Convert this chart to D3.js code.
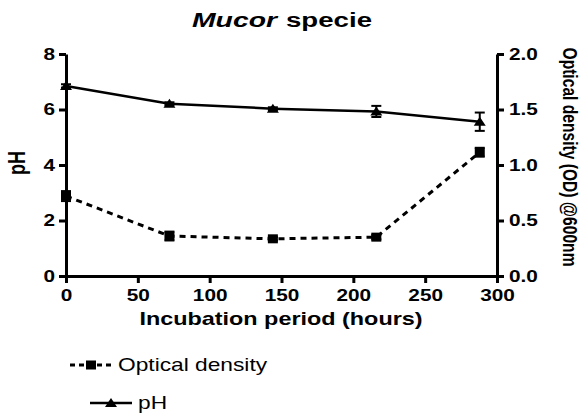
<!DOCTYPE html>
<html><head><meta charset="utf-8">
<script src="https://cdn.jsdelivr.net/npm/d3@7"></script>
<style>
html,body{margin:0;padding:0;background:#fff;}
svg{display:block;font-family:"Liberation Sans",Arial,sans-serif;}
</style></head>
<body>
<svg id="chart" width="581" height="414"></svg>
<script>
const hours = [0, 72, 144, 216, 288];
const pHValues = [6.85, 6.21, 6.03, 5.93, 5.56];
const pHErrors = [0.06, 0.05, 0.05, 0.2, 0.33];
const odValues = [0.72, 0.36, 0.335, 0.35, 1.115];
const odErrors = [0.045, 0.04, 0.015, 0.02, 0.04];
const xTicks = [0, 50, 100, 150, 200, 250, 300];
const pHTicks = [0, 2, 4, 6, 8];
const odTicks = [0.0, 0.5, 1.0, 1.5, 2.0];

const SX = 1.3; // horizontal text stretch seen in the reference
const svg = d3.select("#chart");
const x = d3.scaleLinear().domain([0, 300]).range([66, 497]);
const yL = d3.scaleLinear().domain([0, 8]).range([276, 54]);
const yR = d3.scaleLinear().domain([0, 2]).range([276, 54]);

function styleAxis(g){
  g.selectAll("path.domain").attr("stroke","#000").attr("stroke-width",3);
  g.selectAll(".tick line").attr("stroke","#000").attr("stroke-width",3);
  g.selectAll(".tick text").attr("fill","#000").attr("font-size",16).attr("font-weight","bold")
    .attr("font-family","'Liberation Sans',Arial,sans-serif");
}
// X axis
const gx = svg.append("g").attr("transform","translate(0,276)")
  .call(d3.axisBottom(x).tickValues(xTicks).tickSize(7).tickSizeOuter(0).tickPadding(3));
styleAxis(gx);
gx.selectAll(".tick text").attr("transform",`scale(${SX},1)`).attr("x",0).attr("dy","0.95em");
// Left axis
const gl = svg.append("g").attr("transform","translate(66,0)")
  .call(d3.axisLeft(yL).tickValues(pHTicks).tickSize(7).tickSizeOuter(0).tickPadding(3));
styleAxis(gl);
gl.selectAll(".tick text").attr("x",-11/SX).attr("transform",`scale(${SX},1)`);
// Right axis
const gr = svg.append("g").attr("transform","translate(497,0)")
  .call(d3.axisRight(yR).tickValues(odTicks).tickFormat(d3.format(".1f")).tickSize(7).tickSizeOuter(0).tickPadding(3));
styleAxis(gr);
gr.selectAll(".tick text").attr("x",12/SX).attr("transform",`scale(${SX},1)`);

// Text helper
function txt(str, tx, ty, opts){
  const t = svg.append("text")
    .attr("transform",`translate(${tx},${ty}) scale(${SX},1)` + (opts.rot?` rotate(${opts.rot})`:""))
    .attr("text-anchor",opts.anchor||"start")
    .attr("font-size",opts.size).attr("font-weight",opts.weight||"normal")
    .attr("font-style",opts.style||"normal").attr("fill","#000").text(str);
  if(opts.len){ t.attr("textLength",opts.len).attr("lengthAdjust","spacingAndGlyphs"); }
  return t;
}
txt("Mucor", 192, 27, {size:21, weight:"bold", style:"italic", len:85/SX});
txt("specie", 286, 27, {size:21, weight:"bold", len:86/SX});
txt("Incubation period (hours)", 281, 325, {size:18, weight:"bold", anchor:"middle"});
txt("pH", 25, 163, {size:18, weight:"bold", anchor:"middle", rot:-90});
svg.append("text")
  .attr("transform",`translate(563,157) scale(${SX},1) rotate(90)`)
  .attr("text-anchor","middle").attr("font-size",15.5).attr("font-weight","bold")
  .attr("textLength",219).attr("lengthAdjust","spacingAndGlyphs")
  .text("Optical density (OD) @600nm");

// Data series
const pHData = hours.map((h,i)=>({h, v:pHValues[i], e:pHErrors[i]}));
const odData = hours.map((h,i)=>({h, v:odValues[i], e:odErrors[i]}));

function errorBars(data, y){
  const g = svg.append("g").attr("stroke","#000").attr("stroke-width",2);
  data.forEach(d=>{
    g.append("line").attr("x1",x(d.h)).attr("x2",x(d.h)).attr("y1",y(d.v-d.e)).attr("y2",y(d.v+d.e));
    [d.v-d.e, d.v+d.e].forEach(val=>{
      g.append("line").attr("x1",x(d.h)-5).attr("x2",x(d.h)+5).attr("y1",y(val)).attr("y2",y(val));
    });
  });
}
errorBars(odData, yR);
errorBars(pHData, yL);

const odLine = d3.line().x(d=>x(d.h)).y(d=>yR(d.v));
svg.append("path").datum(odData).attr("d",odLine).attr("fill","none")
  .attr("stroke","#000").attr("stroke-width",3).attr("stroke-dasharray","6,5");
const pHLine = d3.line().x(d=>x(d.h)).y(d=>yL(d.v));
svg.append("path").datum(pHData).attr("d",pHLine).attr("fill","none")
  .attr("stroke","#000").attr("stroke-width",2.5);

function square(cx, cy){
  svg.append("rect").attr("x",cx-5).attr("y",cy-4.5).attr("width",10).attr("height",9).attr("fill","#000");
}
function tri(cx, cy){
  svg.append("path").attr("d",`M${cx-6},${cy+4}L${cx+6},${cy+4}L${cx},${cy-5}Z`).attr("fill","#000");
}
odData.forEach(d=>square(x(d.h), yR(d.v)));
pHData.forEach(d=>tri(x(d.h), yL(d.v)));

// Legend
svg.append("line").attr("x1",70).attr("x2",113).attr("y1",365).attr("y2",365)
  .attr("stroke","#000").attr("stroke-width",3).attr("stroke-dasharray","5,4");
square(91, 365);
txt("Optical density", 118, 371, {size:17.5});
svg.append("line").attr("x1",90).attr("x2",132).attr("y1",403).attr("y2",403)
  .attr("stroke","#000").attr("stroke-width",2.5);
tri(111, 403);
txt("pH", 138, 409, {size:17.5});
</script>
</body></html>
